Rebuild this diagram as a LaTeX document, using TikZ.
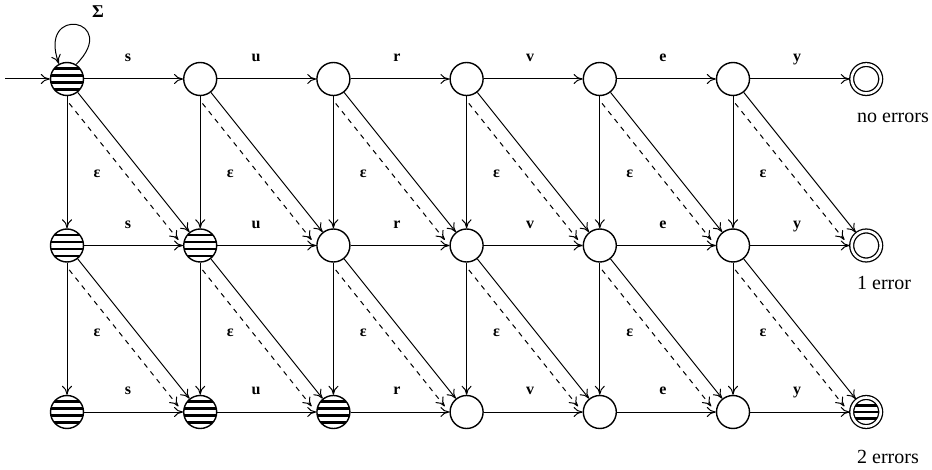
\documentclass[tikz,border=0pt]{standalone}
\usepackage{fontspec}
\setmainfont{Liberation Serif}
\usetikzlibrary{arrows.meta,calc}

\tikzset{
  state/.style={circle, draw, line width=1.4pt, minimum size=33pt, inner sep=0pt, fill=white},
  hatched/.style={path picture={\foreach \s in {-10.5,-3.5,3.5,10.5}
      \draw[line width=2.6pt] ([yshift=\s pt]path picture bounding box.west) -- ([yshift=\s pt]path picture bounding box.east);}},
  hatchedin/.style={path picture={\foreach \s in {-6.5,0,6.5}
      \draw[line width=2.6pt] ([yshift=\s pt]path picture bounding box.west) -- ([yshift=\s pt]path picture bounding box.east);}},
  final/.style={circle, draw, line width=1.3pt, double, double distance=2.6pt, minimum size=29pt, inner sep=0pt, outer sep=2pt},
  trans/.style={line width=1pt, -{To[length=9pt,width=10pt]}},
  lbl/.style={font=\fontsize{16}{18}\selectfont\bfseries, anchor=base, inner sep=0pt},
  note/.style={font=\fontsize{20}{24}\selectfont, anchor=base west, inner sep=0pt},
}

\begin{document}
\begin{tikzpicture}[x=1pt, y=-1pt]
  \useasboundingbox (0,0) rectangle (932,470);

  % states
  \foreach \r in {1,2,3}
    \foreach \c in {1,...,6} {
      \ifnum\c>\r
        \node[state] (q-\r-\c) at ({67+133.2*(\c-1)},{79+166.5*(\r-1)}) {};
      \else
        \node[state, hatched] (q-\r-\c) at ({67+133.2*(\c-1)},{79+166.5*(\r-1)}) {};
      \fi
    }
  \node[final] (q-1-7) at (866.2,79) {};
  \node[final] (q-2-7) at (866.2,245.5) {};
  \node[final, hatchedin] (q-3-7) at (866.2,412) {};

  % start and loop
  \coordinate (start) at (5,79);
  \draw[trans] (start) -- (q-1-1);
  \draw[trans] (q-1-1.58) .. controls +(45:64pt) and +(110:64pt) .. (q-1-1.118);
  \node[lbl, font=\fontsize{18}{20}\selectfont\bfseries] (sigma) at (98,18) {Σ};

  % horizontal transitions
  \foreach \r in {1,2,3}
    \foreach \c [count=\n from 2] in {1,...,6}
      \draw[trans] (q-\r-\c) -- (q-\r-\n);

  % vertical and diagonal transitions
  \foreach \r [count=\s from 2] in {1,2}
    \foreach \c [count=\n from 2] in {1,...,6} {
      \draw[trans] (q-\r-\c) -- (q-\s-\c);
      \draw[trans] (q-\r-\c) -- (q-\s-\n);
      \draw[trans, dash pattern=on 5pt off 5pt]
        ($(q-\r-\c)!24.5pt!-33.4:(q-\s-\n)$) -- ($(q-\s-\n)!22.5pt!36.9:(q-\r-\c)$);
    }

  % labels
  \foreach \sym/\lx [count=\c] in {s/128,u/256,r/397,v/530,e/663,y/797}
    \foreach \r/\ly in {1/62,2/229,3/395}
      \node[lbl] (t-\r-\c) at (\lx,\ly) {\sym};
  \foreach \c in {1,...,6} {
    \node[lbl] (eps-1-\c) at ({97+133.2*(\c-1)},178) {ε};
    \node[lbl] (eps-2-\c) at ({97+133.2*(\c-1)},337) {ε};
  }

  \node[note] (err-0) at (857,123) {no errors};
  \node[note] (err-1) at (857,290) {1 error};
  \node[note] (err-2) at (857,463) {2 errors};
\end{tikzpicture}
\end{document}
